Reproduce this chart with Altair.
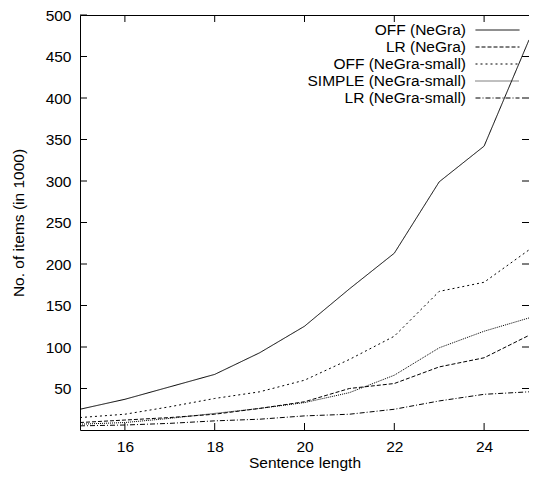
import altair as alt
import pandas as pd

# ---- data ----
lengths = [15, 16, 17, 18, 19, 20, 21, 22, 23, 24, 25]
off_negra = [25, 37, 52, 67, 93, 125, 170, 213, 299, 342, 470]
lr_negra = [9, 12, 15, 19, 26, 34, 50, 56, 76, 87, 114]
off_negra_small = [15, 19, 28, 38, 46, 60, 85, 113, 167, 178, 217]
simple_negra_small = [7, 9, 14, 20, 26, 33, 45, 66, 99, 119, 135]
lr_negra_small = [5, 6, 8, 11, 13, 17, 19, 25, 35, 43, 46]

series_names = ["OFF (NeGra)", "LR (NeGra)", "OFF (NeGra-small)",
                "SIMPLE (NeGra-small)", "LR (NeGra-small)"]
series_values = [off_negra, lr_negra, off_negra_small, simple_negra_small, lr_negra_small]
dash_patterns = [[1, 0], [4, 2], [2, 3], [1, 1], [5, 2, 1, 2]]

x_ticks = [16, 18, 20, 22, 24]
y_ticks = [50, 100, 150, 200, 250, 300, 350, 400, 450, 500]
y_ticks_right = [50, 100, 150, 200, 250, 300, 350, 400, 450]

rows = []
for name, vals in zip(series_names, series_values):
    for x, v in zip(lengths, vals):
        rows.append({"length": x, "items": v, "series": name})
df = pd.DataFrame(rows)

FONT = "Liberation Sans"
FS = 15.5
W, H = 449, 415
TICK = 7

x_scale = alt.Scale(domain=[15, 25], nice=False, zero=False)
y_scale = alt.Scale(domain=[0, 500], nice=False, zero=False)

common_axis = dict(ticks=False, domain=False, grid=False,
                   labelFont=FONT, labelFontSize=FS, labelColor="black",
                   titleFont=FONT, titleFontSize=FS, titleColor="black",
                   titleFontWeight="normal")

x_axis = alt.Axis(orient="bottom", values=x_ticks, format="d",
                  title="Sentence length", labelPadding=9,
                  titleBaseline="alphabetic", titleY=37.5, **common_axis)
y_axis = alt.Axis(orient="left", values=y_ticks, format="d",
                  title="No. of items (in 1000)", labelPadding=9,
                  titleX=-62, titleBaseline="middle",
                  titleAlign="center", titleAngle=270, **common_axis)

lines = alt.Chart(df).mark_line(color="black", strokeWidth=1, clip=True).encode(
    x=alt.X("length:Q", scale=x_scale, axis=x_axis),
    y=alt.Y("items:Q", scale=y_scale, axis=y_axis),
    strokeDash=alt.StrokeDash(
        "series:N",
        scale=alt.Scale(domain=series_names, range=dash_patterns),
        legend=alt.Legend(orient="none", legendX=409.5, legendY=7, title=None,
                          symbolType="M-2.9333,0H2.9333", symbolSize=225,
                          symbolStrokeWidth=1, symbolStrokeColor="black",
                          symbolFillColor="transparent",
                          labelAlign="right", labelOffset={"expr": "-39.5"},
                          labelFont=FONT, labelFontSize=FS, labelColor="black",
                          labelLimit=0, rowPadding=0, padding=0),
    ),
)

xt = pd.DataFrame({"length": x_ticks})
yt = pd.DataFrame({"items": y_ticks})
ytr = pd.DataFrame({"items": y_ticks_right})
rule = dict(color="black", strokeWidth=1)

bottom_ticks = alt.Chart(xt).mark_rule(**rule).encode(
    x=alt.X("length:Q", scale=x_scale, axis=x_axis),
    y=alt.value(H), y2=alt.value(H - TICK))
top_ticks = alt.Chart(xt).mark_rule(**rule).encode(
    x=alt.X("length:Q", scale=x_scale, axis=x_axis),
    y=alt.value(0), y2=alt.value(TICK))
left_ticks = alt.Chart(yt).mark_rule(**rule).encode(
    y=alt.Y("items:Q", scale=y_scale, axis=y_axis),
    x=alt.value(0), x2=alt.value(TICK))
right_ticks = alt.Chart(ytr).mark_rule(**rule).encode(
    y=alt.Y("items:Q", scale=y_scale, axis=y_axis),
    x=alt.value(W), x2=alt.value(W - TICK))

chart = (
    alt.layer(lines, bottom_ticks, top_ticks, left_ticks, right_ticks)
    .properties(width=W, height=H,
                padding={"left": 72, "top": 7, "right": 0, "bottom": 41},
                autosize=alt.AutoSizeParams(type="none"),
                background="white")
    .configure_view(stroke="black", strokeWidth=1)
)

chart.save("out.html", embed_options={"renderer": "svg", "actions": False})
